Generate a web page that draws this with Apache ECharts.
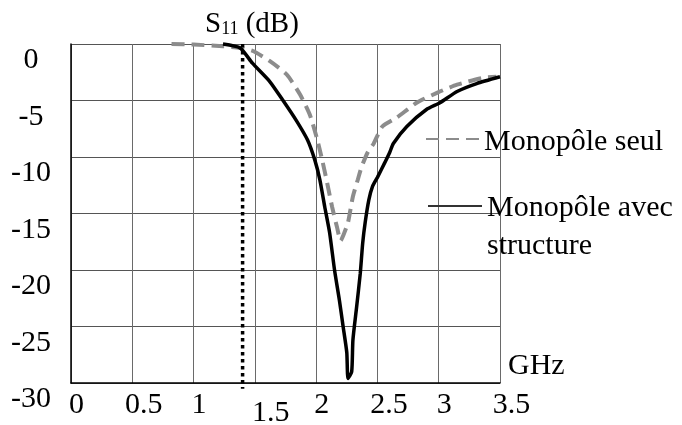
<!DOCTYPE html>
<html>
<head>
<meta charset="utf-8">
<script src="https://cdn.jsdelivr.net/npm/echarts@6/dist/echarts.min.js"></script>
<style>
html,body{margin:0;padding:0;background:#fff;}
#chart{width:682px;height:425px;}
</style>
</head>
<body>
<div id="chart"></div>
<script>
// ---- data ----
var seulName = 'Monopôle seul';
var avecName = 'Monopôle avec structure';

var seulFreq = [0.82, 1.0, 1.24, 1.38, 1.48, 1.62, 1.76, 1.87, 1.95, 2.01, 2.05, 2.09, 2.13, 2.17, 2.20, 2.23, 2.26, 2.30, 2.34, 2.37, 2.42, 2.47, 2.54, 2.66, 2.82, 2.99, 3.15, 3.36, 3.47];
var seulS11  = [0.0, -0.05, -0.2, -0.35, -0.6, -1.5, -2.7, -4.5, -6.3, -8.5, -10.3, -12.3, -14.4, -16.2, -17.4, -16.7, -15.8, -13.5, -12.0, -10.9, -9.6, -8.8, -7.3, -6.5, -5.2, -4.3, -3.6, -3.0, -2.9];

var avecFreq = [1.24, 1.38, 1.48, 1.62, 1.73, 1.84, 1.93, 1.99, 2.03, 2.07, 2.11, 2.15, 2.19, 2.22, 2.25, 2.26, 2.29, 2.30, 2.33, 2.36, 2.38, 2.40, 2.43, 2.46, 2.50, 2.56, 2.60, 2.63, 2.74, 2.90, 3.01, 3.15, 3.31, 3.50];
var avecS11  = [0.0, -0.35, -1.7, -3.3, -5.0, -6.8, -8.5, -10.3, -12.0, -14.4, -16.7, -20.0, -22.7, -25.0, -27.3, -29.6, -29.0, -26.2, -23.3, -20.3, -17.6, -15.8, -13.8, -12.6, -11.8, -10.5, -9.6, -8.8, -7.3, -5.8, -5.2, -4.2, -3.5, -2.9];

var markerFreq = [1.4, 1.4];
var markerS11 = [0, -30.5];

var xTickLabels = ['0', '0.5', '1', '1.5', '2', '2.5', '3', '3.5'];
var yTickLabels = ['-30', '-25', '-20', '-15', '-10', '-5', '0'];

function zip(a, b) { return a.map(function (v, i) { return [v, b[i]]; }); }

var FONT = '"Liberation Serif", "Times New Roman", serif';
var chart = echarts.init(document.getElementById('chart'), null, {renderer: 'canvas'});

function txt(extra) {
  var o = {fontFamily: FONT, fontSize: 30, fontWeight: 'normal', color: '#000'};
  for (var k in extra) o[k] = extra[k];
  return o;
}

chart.setOption({
  animation: false,
  backgroundColor: '#fff',
  title: {
    text: '{a|S}{b|11}{a| (dB)}',
    left: 205, top: 10, padding: 0,
    textStyle: {
      fontWeight: 'normal',
      rich: {
        a: txt({fontSize: 29}),
        b: txt({fontSize: 18, padding: [10, 0, 0, 0]})
      }
    }
  },
  legend: [{
    data: [{name: seulName}],
    left: 425, top: 121, padding: 0, orient: 'vertical',
    itemWidth: 53, itemHeight: 14, selectedMode: false,
    itemStyle: {opacity: 0},
    formatter: function (n) { return '{a|' + n + '}'; },
    textStyle: txt({lineHeight: 30, rich: {a: txt({lineHeight: 30, padding: [6, 0, 0, 0]})}})
  }, {
    data: [{name: avecName, lineStyle: {color: '#333'}}],
    left: 427, top: 147, padding: 0, orient: 'vertical',
    itemWidth: 54, itemHeight: 14, selectedMode: false,
    itemStyle: {opacity: 0},
    formatter: function () { return '{p| }\n{a|Monopôle avec}\n{a|structure}'; },
    textStyle: txt({lineHeight: 38, rich: {a: txt({lineHeight: 38}), p: txt({lineHeight: 42})}})
  }],
  grid: {left: 71, right: 182, top: 44, bottom: 42, containLabel: false, outerBoundsMode: 'none'},
  xAxis: {
    type: 'value', min: 0, max: 3.5, interval: 0.5,
    name: '{g|GHz}', nameLocation: 'end', nameGap: 8,
    nameTextStyle: {align: 'left', verticalAlign: 'bottom', rich: {g: txt({padding: [0, 0, 2, 0]})}},
    axisLine: {show: true, onZero: false, lineStyle: {color: '#000', width: 1.5}},
    axisTick: {show: false},
    splitLine: {show: true, lineStyle: {color: '#6a6a6a', width: 1}},
    axisLabel: {
      margin: 22, verticalAlign: 'middle', align: 'center',
      formatter: function (v, idx) {
        var s = xTickLabels[idx];
        if (s === '1.5') return '{m|' + s + '}';
        if (s.indexOf('.') >= 0) return '{h|' + s + '}';
        return '{i|' + s + '}';
      },
      rich: {
        i: txt({padding: [0, 0, 0, 11]}),
        h: txt({padding: [0, 0, 0, 23]}),
        m: txt({padding: [16, 0, 0, 32]})
      }
    }
  },
  yAxis: {
    type: 'value', min: -30, max: 0, interval: 5,
    axisLine: {show: true, lineStyle: {color: '#000', width: 1.5}},
    axisTick: {show: false},
    splitLine: {show: true, lineStyle: {color: '#555', width: 1}},
    axisLabel: {
      margin: 40, align: 'center', verticalAlign: 'middle',
      formatter: function (v, idx) { return '{y|' + yTickLabels[idx] + '}'; },
      rich: {y: txt({padding: [33, 0, 0, 0]})}
    }
  },
  series: [{
    name: seulName, type: 'line', data: zip(seulFreq, seulS11),
    symbol: 'none', smooth: 0.2, clip: false,
    lineStyle: {color: '#8c8c8c', width: 4, type: [13, 7]},
    itemStyle: {color: '#8c8c8c'}, z: 3
  }, {
    name: avecName, type: 'line', data: zip(avecFreq, avecS11),
    symbol: 'none', smooth: 0.2, clip: false,
    lineStyle: {color: '#000', width: 3.5},
    itemStyle: {color: '#000'}, z: 4
  }, {
    name: 'marker', type: 'line', data: zip(markerFreq, markerS11),
    symbol: 'none', clip: false, silent: true,
    lineStyle: {color: '#000', width: 3.5, type: [3.5, 3.5], cap: 'butt'},
    z: 5
  }]
});
</script>
</body>
</html>
